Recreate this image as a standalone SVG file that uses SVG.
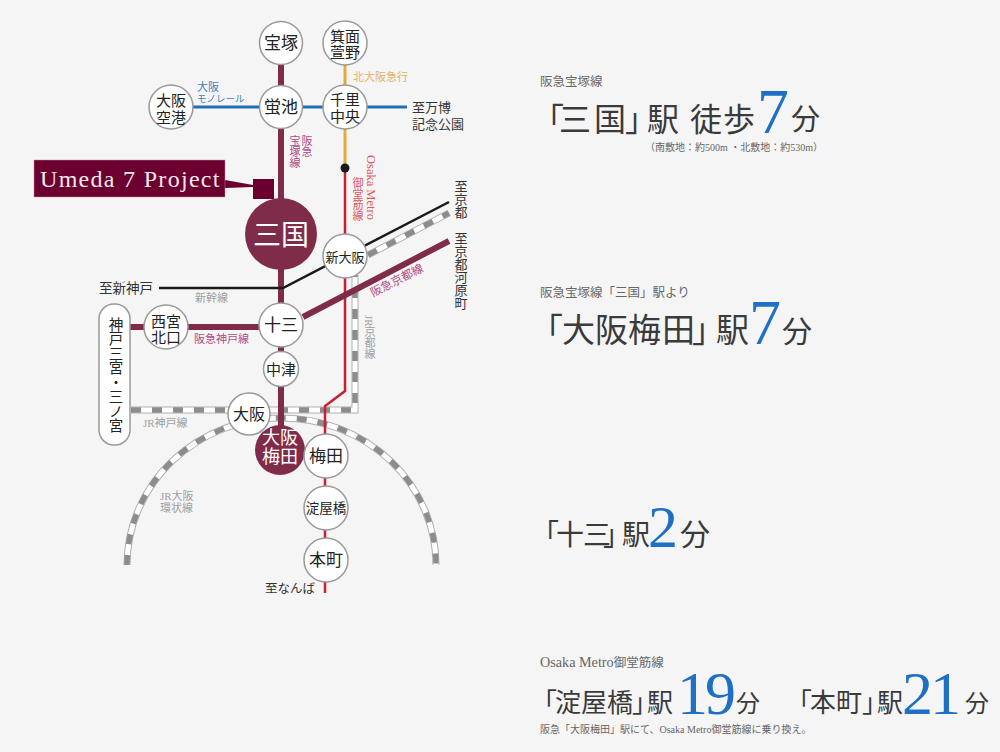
<svg xmlns="http://www.w3.org/2000/svg" width="1000" height="752" viewBox="0 0 1000 752">
<style>
text{font-family:"Liberation Serif","Noto Sans CJK JP",serif}
.st{fill:#fff;stroke:#9a9a9a;stroke-width:1.5}
.n{font-size:17px;fill:#222;text-anchor:middle}
.m{font-size:15px;fill:#222;text-anchor:middle}
.t{font-size:13.500px;fill:#222;text-anchor:middle}
.w{font-size:18px;fill:#fff;text-anchor:middle}
.l{fill:none;stroke-linecap:butt}
.mar{stroke:#7f2b4a;stroke-width:6}
.blu{stroke:#1f6fb5;stroke-width:3}
.org{stroke:#e8a93a;stroke-width:3}
.red{stroke:#c8202f;stroke-width:2.5}
.blk{stroke:#1a1a1a;stroke-width:2.5}
.jb{stroke:#b0b0b0;stroke-width:7}
.jw{stroke:#fff;stroke-width:5}
.jd{stroke:#8c8c8c;stroke-width:5.500;stroke-dasharray:10 11}
.lab{font-size:11px}
.gr{fill:#a0a0a0}
.pk{fill:#b04a85}
.bl{fill:#3f7fbd}
.or{fill:#e8b060}
.rd{fill:#e05560}
.dk{fill:#333}
.v{writing-mode:vertical-rl}
.h{fill:#3a3a3a}
.b{fill:#1f70c4}
.s{fill:#666;font-size:12.500px}
</style>
<rect width="1000" height="752" fill="#f5f5f5"/>
<g id="connectors">
<g class="l">
<path class="jb" d="M127 565A154.500 147 0 0 1 436 565"/>
<path class="jw" d="M127 565A154.500 147 0 0 1 436 565"/>
<path class="jd" d="M127 565A154.500 147 0 0 1 436 565"/>
<path class="jb" d="M131 410H355V275M368 255L449 213"/>
<path class="jw" d="M131 410H355V275M368 255L449 213"/>
<path class="jd" d="M131 410H355V275M368 255L449 213"/>
<path class="red" d="M345 168V391L325 406V593"/>
<path class="mar" d="M281 43V450"/>
<path class="mar" d="M130 327H281M303 317L449 241"/>
<path class="blk" d="M159 288H283L449 202"/>
<path class="blu" d="M171 107H407"/>
<path class="org" d="M345 43V168"/>
</g>
<circle cx="345" cy="168" r="4.500" fill="#1a1a1a"/>
<path d="M225 180L253 185V187L225 188Z" fill="#6b0030"/>
</g>
<g id="umeda-7-project">
<rect x="34" y="160" width="191" height="37" fill="#6b0030" stroke="#c98aa5" stroke-width="0.5"/>
<text x="40" y="187" font-size="24" letter-spacing="1.300" fill="#f4e8ec">Umeda 7 Project</text>
<rect x="253" y="179" width="21" height="20" fill="#6b0030"/>
</g>
<g id="takarazuka"><circle class="st" cx="281" cy="43" r="21.500"/><text class="n" x="281" y="49">宝塚</text></g>
<g id="minoh"><circle class="st" cx="345" cy="43" r="22"/><text class="m" x="345" y="41.500">箕面</text><text class="m" x="345" y="58">萱野</text></g>
<g id="hotarugaike"><circle class="st" cx="281" cy="107" r="21.500"/><text class="n" x="281" y="113">蛍池</text></g>
<g id="senri"><circle class="st" cx="345" cy="107" r="22"/><text class="m" x="345" y="104.500">千里</text><text class="m" x="345" y="121.500">中央</text></g>
<g id="itami"><circle class="st" cx="171" cy="107" r="22"/><text class="m" x="171" y="105.500">大阪</text><text class="m" x="171" y="122.500">空港</text></g>
<g id="mikuni"><circle cx="281" cy="234" r="36" fill="#7f2b4a"/><text x="281" y="245" font-size="28" fill="#fff" text-anchor="middle">三国</text></g>
<g id="shin-osaka"><circle class="st" cx="345" cy="256" r="22"/><text class="t" x="345" y="262" style="font-size:13px">新大阪</text></g>
<g id="juso"><circle class="st" cx="281" cy="325" r="22"/><text class="n" x="281" y="331">十三</text></g>
<g id="nakatsu"><circle class="st" cx="281" cy="369" r="17.500"/><text class="m" x="281" y="374.500">中津</text></g>
<g id="nishinomiya"><circle class="st" cx="166" cy="327" r="22"/><text class="m" x="166" y="326.500">西宮</text><text class="m" x="166" y="342.500">北口</text></g>
<g id="sannomiya"><rect class="st" x="99" y="304" width="31" height="141" rx="15"/><text class="v" x="114.500" y="317" font-size="14.500" fill="#222">神戸三宮・三ノ宮</text></g>
<g id="osaka"><circle class="st" cx="249" cy="414" r="21"/><text class="m" x="249" y="420" style="font-size:16px">大阪</text></g>
<g id="osaka-umeda"><circle cx="280" cy="450" r="25" fill="#7f2b4a"/><text class="w" x="280" y="443.500">大阪</text><text class="w" x="280" y="463">梅田</text></g>
<g id="umeda"><circle class="st" cx="326" cy="456" r="22"/><text class="n" x="326" y="462">梅田</text></g>
<g id="yodoyabashi"><circle class="st" cx="326" cy="508" r="22"/><text class="t" x="326" y="513">淀屋橋</text></g>
<g id="hommachi"><circle class="st" cx="326" cy="560" r="22"/><text class="n" x="326" y="566">本町</text></g>
<g id="labels">
<text class="lab bl" x="197" y="91">大阪</text>
<text class="bl" x="197" y="102" font-size="9.500">モノレール</text>
<text class="lab or" x="353" y="81">北大阪急行</text>
<text class="dk" x="412" y="112" font-size="13">至万博</text>
<text class="dk" x="412" y="129" font-size="13">記念公園</text>
<text class="lab pk v" x="306" y="135">阪急</text>
<text class="lab pk v" x="294" y="135">宝塚線</text>
<text class="rd v" x="371" y="155" font-size="12.500">Osaka Metro</text>
<text class="lab rd v" x="357" y="177">御堂筋線</text>
<text class="dk v" x="460" y="180" font-size="13">至京都</text>
<text class="dk v" x="460" y="232" font-size="13">至京都河原町</text>
<text class="dk" x="99" y="293" font-size="13.500">至新神戸</text>
<text class="lab gr" x="195" y="302">新幹線</text>
<text class="lab pk" x="194" y="343">阪急神戸線</text>
<text class="pk" font-size="11.500" transform="translate(373 297) rotate(-27)">阪急京都線</text>
<text class="lab gr v" x="369" y="315">JR京都線</text>
<text class="lab gr" x="143" y="427">JR神戸線</text>
<text class="lab gr" x="160" y="500">JR大阪</text>
<text class="lab gr" x="160" y="512">環状線</text>
<text class="dk" x="265" y="593" font-size="12.500">至なんば</text>
</g>
<g id="text-mikuni">
<text class="s" x="540" y="86">阪急宝塚線</text>
<text class="h" x="532 559 594 625 647 690 723" y="131" font-size="32">「三国」駅徒歩</text>
<text class="b" x="757" y="133" font-size="64">7</text>
<text class="h" x="791" y="130" font-size="29">分</text>
<text x="645" y="151" font-size="10" fill="#666">（南敷地：約500m ・北敷地：約530m）</text>
</g>
<g id="text-umeda">
<text class="s" x="540" y="297">阪急宝塚線「三国」駅より</text>
<text class="h" x="530 562 595 628 662 692 716" y="342" font-size="33">「大阪梅田」駅</text>
<text class="b" x="749" y="344" font-size="64">7</text>
<text class="h" x="782" y="342" font-size="30">分</text>
</g>
<g id="text-juso">
<text class="h" x="531 556 583 603 622" y="545" font-size="28">「十三」駅</text>
<text class="b" x="648" y="547" font-size="60">2</text>
<text class="h" x="680" y="545" font-size="30">分</text>
</g>
<g id="text-midosuji">
<text class="s" x="540" y="667"><tspan font-size="14.200">Osaka Metro</tspan>御堂筋線</text>
<text class="h" x="531 555 581 607 632 647" y="712" font-size="26">「淀屋橋」駅</text>
<text class="b" x="677" y="714" font-size="62" letter-spacing="-3">19</text>
<text class="h" x="736" y="712" font-size="24">分</text>
<text class="h" x="786 810 836 862 877" y="712" font-size="26">「本町」駅</text>
<text class="b" x="902" y="714" font-size="62" letter-spacing="-3">21</text>
<text class="h" x="965" y="712" font-size="24">分</text>
<text x="540" y="733" font-size="10" fill="#666">阪急「大阪梅田」駅にて、Osaka Metro御堂筋線に乗り換え。</text>
</g>
</svg>
